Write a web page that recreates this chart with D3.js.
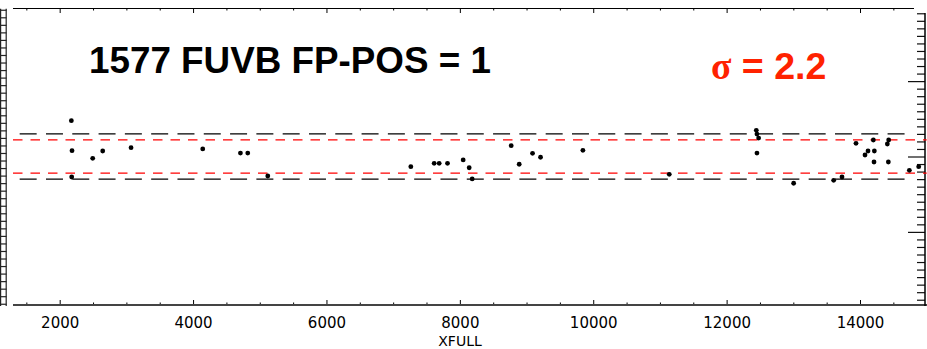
<!DOCTYPE html>
<html>
<head>
<meta charset="utf-8">
<script src="https://cdn.jsdelivr.net/npm/d3@7"></script>
<style>
  html, body { margin: 0; padding: 0; background: #fff; }
  svg { display: block; }
</style>
</head>
<body>
<svg id="chart" width="927" height="349"></svg>
<script>
// ---- data ----
const xfull = [2175, 2185, 2180, 2495, 2645, 3070, 4145, 4710, 4820, 5120,
  7265, 7615, 7690, 7815, 8050, 8140, 8185, 8770, 8890, 9090, 9210, 9845,
  11140, 12445, 12455, 12480, 12455, 13005, 13605, 13730, 13940, 14075, 14120,
  14200, 14215, 14210, 14410, 14430, 14425, 14740, 14880];
const resid = [4.75, 0.77, -2.72, -0.24, 0.73, 1.17, 1.0, 0.46, 0.46, -2.59,
  -1.35, -0.9, -0.9, -0.9, -0.46, -1.49, -2.98, 1.43, -1.03, 0.42, -0.1, 0.82,
  -2.36, 3.47, 2.98, 2.45, 0.46, -3.55, -3.16, -2.72, 1.75, 0.2, 0.73,
  2.19, 0.73, -0.73, 1.66, 2.19, -0.73, -1.83, -1.35];
const sigma = 2.2;
const blackBand = [-3.0, 3.0];
const redBand = [-sigma, sigma];
const xMajorTicks = [2000, 4000, 6000, 8000, 10000, 12000, 14000];
const xMinorTicks = [1500, 2500, 3000, 3500, 4500, 5000, 5500, 6500, 7000, 7500,
  8500, 9000, 9500, 10500, 11000, 11500, 12500, 13000, 13500, 14500];
const yMajorTicks = [-10, 0, 10];
const yMinorTicks = [-19,-18,-17,-16,-15,-14,-13,-12,-11,-9,-8,-7,-6,-5,-4,-3,-2,-1,
  1,2,3,4,5,6,7,8,9,11,12,13,14,15,16,17,18,19];
const leftLadder = [19.4,18.4,17.4,16.4,15.4,14.4,13.4,12.4,11.4,10.4,9.4,8.4,7.4,6.4,5.4,4.4,3.4,2.4,1.4,0.4,
  -0.6,-1.6,-2.6,-3.6,-4.6,-5.6,-6.6,-7.6,-8.6,-9.6,-10.6,-11.6,-12.6,-13.6,-14.6,-15.6,-16.6,-17.6,-18.6,-19.6];
const titleText = "1577 FUVB FP-POS = 1";
const xLabel = "XFULL";

// ---- scales ----
const svg = d3.select("#chart");
const x = d3.scaleLinear().domain([1300, 15000]).range([13, 926.7]);
const y = d3.scaleLinear().domain([-19.7, 19.7]).range([305, 8]);

// ---- left ladder (cropped neighbouring axis) ----
const lad = svg.append("g").attr("stroke", "#222").attr("stroke-width", 1.2);
lad.append("line").attr("x1", 0.6).attr("x2", 0.6).attr("y1", y(19.6)).attr("y2", 306);
lad.append("line").attr("x1", 6.2).attr("x2", 6.2).attr("y1", y(19.6)).attr("y2", 306);
lad.selectAll("line.t").data(leftLadder).join("line").attr("class", "t")
  .attr("x1", 0).attr("x2", 6.5).attr("y1", d => y(d)).attr("y2", d => y(d));

// ---- top axis ----
const topG = svg.append("g").attr("transform", "translate(0,8)");
topG.call(d3.axisTop(x).tickValues(xMajorTicks).tickSizeInner(-5).tickSizeOuter(0).tickFormat(""));
topG.append("g").call(d3.axisTop(x).tickValues(xMinorTicks).tickSizeInner(-2.5).tickSizeOuter(0).tickFormat(""));
topG.selectAll(".domain").remove();
topG.selectAll("line").attr("stroke", "#000").attr("stroke-width", 1);
topG.append("line").attr("x1", 13).attr("x2", 914).attr("y1", 0.5).attr("y2", 0.5)
  .attr("stroke", "#000").attr("stroke-width", 1.2);

// ---- bottom axis ----
const botG = svg.append("g").attr("transform", "translate(0,305)");
botG.call(d3.axisBottom(x).tickValues(xMajorTicks).tickSizeInner(-5).tickSizeOuter(0)
  .tickPadding(12.5).tickFormat(d3.format("d")));
botG.append("g").call(d3.axisBottom(x).tickValues(xMinorTicks).tickSizeInner(-2.5).tickSizeOuter(0).tickFormat(""));
botG.selectAll(".domain").remove();
botG.selectAll("line").attr("stroke", "#000").attr("stroke-width", 1);
botG.selectAll("text").attr("font-family", "DejaVu Sans").attr("font-size", 15).attr("fill", "#000");
botG.append("line").attr("x1", 13).attr("x2", 927).attr("y1", 0).attr("y2", 0)
  .attr("stroke", "#444").attr("stroke-width", 2);

// ---- right axis ----
const rG = svg.append("g").attr("transform", "translate(925,0)");
rG.call(d3.axisRight(y).tickValues(yMajorTicks).tickSizeInner(-17).tickSizeOuter(0).tickFormat(""));
rG.append("g").call(d3.axisRight(y).tickValues(yMinorTicks).tickSizeInner(-8).tickSizeOuter(0).tickFormat(""));
rG.selectAll(".domain").remove();
rG.selectAll("line").attr("stroke", "#111").attr("stroke-width", 1.2);
rG.append("line").attr("x1", 0).attr("x2", 0).attr("y1", 13).attr("y2", 306)
  .attr("stroke", "#000").attr("stroke-width", 1.5);

// ---- bands ----
svg.selectAll("line.black").data(blackBand).join("line").attr("class", "black")
  .attr("x1", x(1400)).attr("x2", x(14720))
  .attr("y1", d => y(d)).attr("y2", d => y(d))
  .attr("stroke", "#000").attr("stroke-width", 1.3)
  .attr("stroke-dasharray", "17,9.3");
svg.selectAll("line.red").data(redBand).join("line").attr("class", "red")
  .attr("x1", x(1300)).attr("x2", x(15000))
  .attr("y1", d => y(d)).attr("y2", d => y(d))
  .attr("stroke", "#ff0000").attr("stroke-width", 1.3)
  .attr("stroke-dasharray", "9.5,8");

// ---- points ----
svg.append("g").selectAll("circle").data(xfull.map((v, i) => [v, resid[i]])).join("circle")
  .attr("cx", d => x(d[0])).attr("cy", d => y(d[1])).attr("r", 2.4).attr("fill", "#000");

// ---- annotations ----
svg.append("text").attr("x", 89).attr("y", 73)
  .attr("font-family", "Liberation Sans, Arial, sans-serif").attr("font-weight", "bold")
  .attr("font-size", 36.8).attr("fill", "#000").text(titleText);

const sig = svg.append("text").attr("x", 711).attr("y", 79).attr("fill", "#ff2200")
  .attr("font-weight", "bold").attr("font-size", 37.5);
sig.append("tspan").attr("font-family", "Liberation Serif, Times New Roman, serif").text("σ");
sig.append("tspan").attr("font-family", "Liberation Sans, Arial, sans-serif").text(" = " + sigma.toFixed(1));

svg.append("text").attr("x", 460).attr("y", 345.5).attr("text-anchor", "middle")
  .attr("font-family", "DejaVu Sans").attr("font-size", 14).attr("fill", "#000").text(xLabel);
</script>
</body>
</html>
